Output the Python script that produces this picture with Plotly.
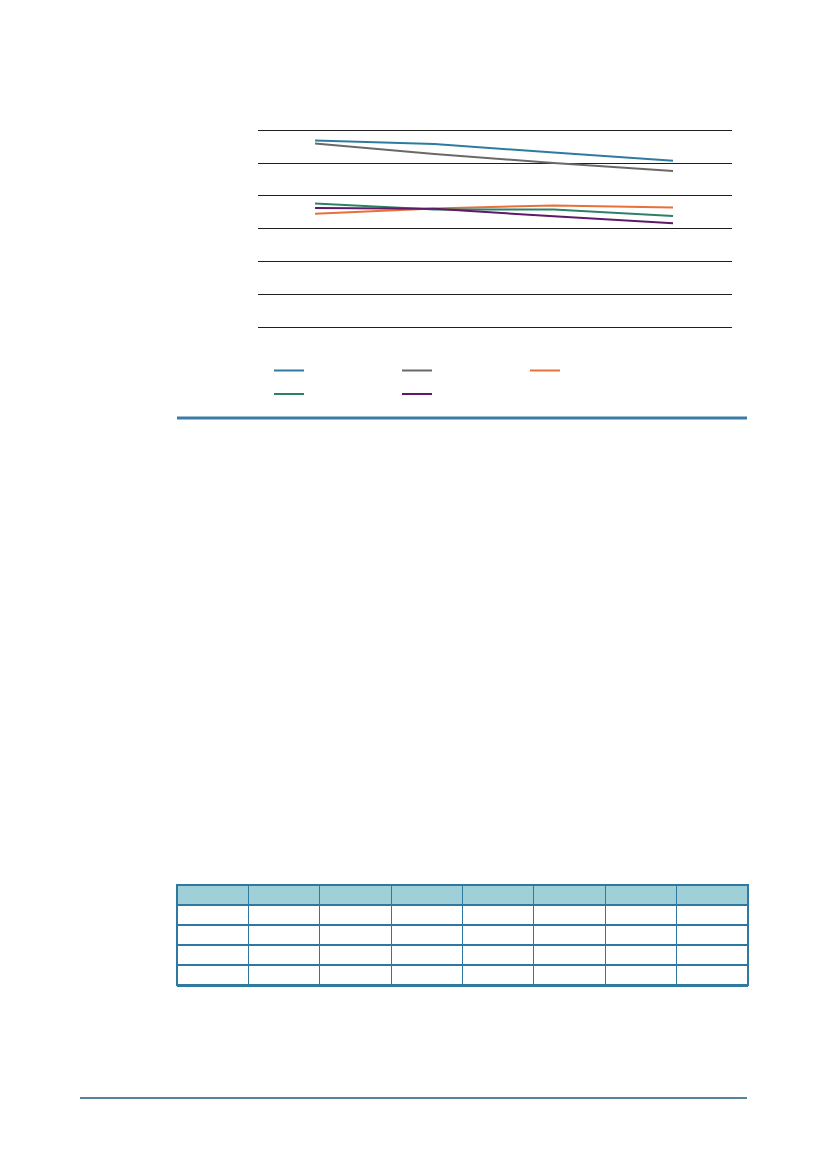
import plotly.graph_objects as go

W, H = 827, 1169
OFF = 8  # 页面 body 默认外边距

# 数据（图中无文字，按像素估读）
periods = ["P1", "P2", "P3", "P4"]
series_blue = [56.9, 55.8, 53.2, 50.7]
series_gray = [56.0, 52.8, 50.0, 47.6]
series_orange = [34.6, 36.2, 37.1, 36.5]
series_green = [37.7, 35.9, 35.9, 33.9]
series_purple = [36.3, 36.1, 33.8, 31.7]
y_ticks = [0, 10, 20, 30, 40, 50, 60]

table_columns = 8
table_rows = 4

colors = {
    'blue': '#2e7ba0',
    'gray': '#6b6968',
    'orange': '#e8703a',
    'green': '#2f8068',
    'purple': '#5e1a66',
}


def px_x(v):
    return (v - OFF) / W


def px_y(v):
    return 1 - (v - OFF) / H


fig = go.Figure()

# 折线，前三条放第一行图例，后两条放第二行
lines = [
    (series_blue, colors['blue'], 'legend'),
    (series_gray, colors['gray'], 'legend'),
    (series_orange, colors['orange'], 'legend'),
    (series_green, colors['green'], 'legend2'),
    (series_purple, colors['purple'], 'legend2'),
]
for vals, c, lg in lines:
    fig.add_trace(go.Scatter(x=periods, y=vals, mode='lines', name=' ',
                             line=dict(color=c, width=2), legend=lg))

# 空表格
fig.add_trace(go.Table(
    domain=dict(x=[px_x(177), px_x(748)], y=[px_y(990), px_y(885)]),
    columnwidth=[1] * table_columns,
    header=dict(values=[''] * table_columns, height=20,
                fill_color='#9fd0d8', line=dict(color='#2f78a0', width=1.2)),
    cells=dict(values=[[''] * table_rows for _ in range(table_columns)], height=20,
               fill_color='white', line=dict(color='#2f78a0', width=1.2)),
))

# 分隔线
shapes = [
    dict(type='line', xref='paper', yref='paper', x0=px_x(177), x1=px_x(747),
         y0=px_y(418), y1=px_y(418), line=dict(color='#3a7ca5', width=3)),
    dict(type='line', xref='paper', yref='paper', x0=px_x(177), x1=px_x(748),
         y0=px_y(985.5), y1=px_y(985.5), line=dict(color='#2e7aa0', width=3)),
    dict(type='line', xref='paper', yref='paper', x0=px_x(80), x1=px_x(747),
         y0=px_y(1098), y1=px_y(1098), line=dict(color='#1f5a7a', width=1.5)),
]

legend_common = dict(orientation='h', xanchor='left', yanchor='middle',
                     entrywidth=83, entrywidthmode='pixels',
                     font=dict(size=12), bgcolor='rgba(0,0,0,0)',
                     itemwidth=30, traceorder='normal')

fig.update_layout(
    width=W, height=H,
    margin=dict(l=0, r=0, t=0, b=0),
    paper_bgcolor='white', plot_bgcolor='white',
    showlegend=True,
    legend=dict(x=px_x(269), y=px_y(370.5), **legend_common),
    legend2=dict(x=px_x(269), y=px_y(394), **legend_common),
    shapes=shapes,
)

fig.update_xaxes(domain=[px_x(258), px_x(732)], range=[-0.478, 3.494],
                 showgrid=False, showticklabels=False, ticks='', zeroline=False)
fig.update_yaxes(domain=[px_y(330.6), px_y(127.0)], range=[-1, 61],
                 tickvals=y_ticks, showticklabels=False, ticks='',
                 gridcolor='#1f1f1f', gridwidth=1.3, zeroline=False)

fig.write_html("out.html")
